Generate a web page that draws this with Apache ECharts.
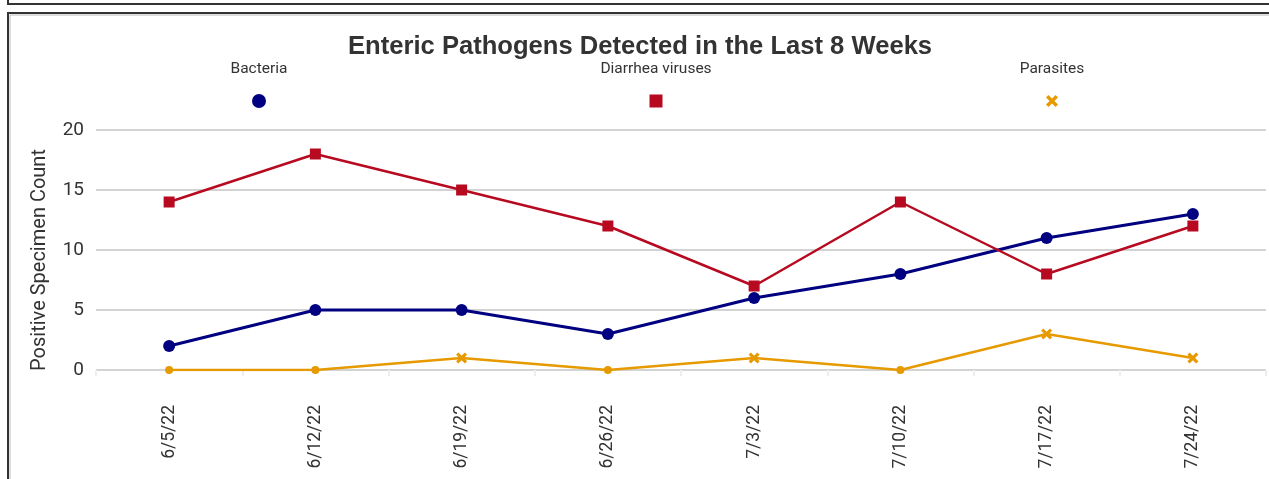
<!DOCTYPE html>
<html>
<head>
<meta charset="utf-8">
<script src="https://cdn.jsdelivr.net/npm/echarts@6/dist/echarts.min.js"></script>
<style>
html,body{margin:0;padding:0;background:#fff;}
#chart{width:1269px;height:479px;}
</style>
</head>
<body>
<div id="chart"></div>
<script>
var categories = ['6/5/22','6/12/22','6/19/22','6/26/22','7/3/22','7/10/22','7/17/22','7/24/22'];
var seriesNames = ['Bacteria','Diarrhea viruses','Parasites'];
var bacteria = [2,5,5,3,6,8,11,13];
var diarrhea = [14,18,15,12,7,14,8,12];
var parasites = [0,0,1,0,1,0,3,1];
var yTicks = [0,5,10,15,20];

var xPath = 'path://M2,0 L5,3 L8,0 L10,2 L7,5 L10,8 L8,10 L5,7 L2,10 L0,8 L3,5 L0,2 Z';
var colors = ['#000080','#b70a20','#e69a00'];
var legendX = [259,656,1052];

var chart = echarts.init(document.getElementById('chart'));

var legends = seriesNames.map(function(n,i){
  var icons = ['circle','rect',xPath];
  var sz = [14,13,12][i];
  return {
    data:[{name:n, icon:icons[i]}],
    left: legendX[i]-sz/2, top: 101-sz/2, padding:0,
    itemWidth: sz, itemHeight: sz, itemGap: 0,
    formatter: function(){return '';},
    textStyle:{fontSize:1}, selectedMode:false
  };
});

var graphics = [
  {type:'polyline', shape:{points:[[8,0],[8,4],[1269,4]]}, style:{stroke:'#333',lineWidth:2,fill:null}},
  {type:'polyline', shape:{points:[[8,479],[8,13],[1269,13]]}, style:{stroke:'#333',lineWidth:2,fill:null}},
  {type:'polyline', shape:{points:[[10,479],[10,15],[1269,15]]}, style:{stroke:'#bbb',lineWidth:1,fill:null}}
];
seriesNames.forEach(function(n,i){
  graphics.push({type:'text', style:{text:n, x:legendX[i], y:69, align:'center', verticalAlign:'middle', fontSize:15.5, fontFamily:'Roboto', fill:'#333'}});
});

chart.setOption({
  animation:false,
  color: colors,
  title:{text:'Enteric Pathogens Detected in the Last 8 Weeks', left:343, top:29, padding:[5,5,5,5],
    textStyle:{fontFamily:'Liberation Sans', fontWeight:'bold', fontSize:25.6, color:'#333'}},
  legend: legends,
  graphic: graphics,
  grid:{left:96, right:3, top:130, bottom:109},
  xAxis:{type:'category', data:categories, boundaryGap:true, offset:26,
    axisLine:{show:false},
    axisTick:{show:true, length:6, lineStyle:{color:'#eeeeee', width:2}},
    axisLabel:{rotate:90, margin:9, fontSize:17.5, fontFamily:'Roboto', color:'#333'}},
  yAxis:{type:'value', min:yTicks[0], max:yTicks[yTicks.length-1], interval:5,
    name:'Positive Specimen Count', nameLocation:'middle', nameGap:46,
    nameTextStyle:{fontSize:20, fontFamily:'Roboto', color:'#333', padding:[0,20,0,0]},
    axisLine:{show:false}, axisTick:{show:false},
    axisLabel:{fontSize:19, fontFamily:'Roboto', color:'#333', margin:12},
    splitLine:{lineStyle:{color:'#c4c4c4', width:1.5}}},
  series:[
    {name:seriesNames[0], type:'line', data:bacteria, symbol:'circle', symbolSize:12,
      lineStyle:{width:3, color:colors[0]}, itemStyle:{color:colors[0]}},
    {name:seriesNames[1], type:'line', data:diarrhea, symbol:'rect', symbolSize:11,
      lineStyle:{width:2.5, color:colors[1]}, itemStyle:{color:colors[1]}},
    {name:seriesNames[2], type:'line', data:parasites.map(function(v){
        return v===0 ? {value:v, symbol:'circle', symbolSize:8} : {value:v, symbol:xPath, symbolSize:11};
      }),
      lineStyle:{width:2.5, color:colors[2]}, itemStyle:{color:colors[2]}}
  ]
});
</script>
</body>
</html>
